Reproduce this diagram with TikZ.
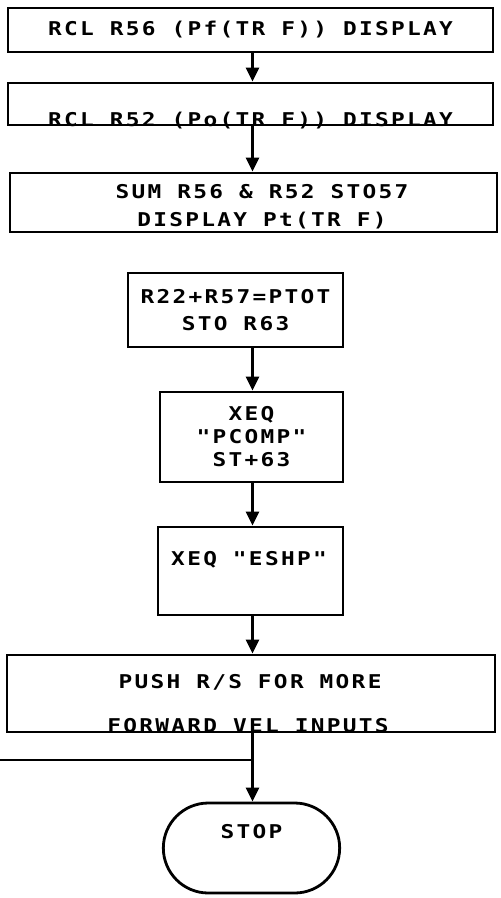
\documentclass[tikz,border=0pt]{standalone}
\usepackage{fontspec}
\newfontfamily\plotfont[FakeStretch=1.2,LetterSpace=12]{DejaVu Sans Mono}
\usetikzlibrary{shapes.misc,arrows.meta,positioning}

\begin{document}
\begin{tikzpicture}[x=1pt,y=-1pt,
        stepbox/.style={draw,line width=2.8pt,inner sep=0pt,align=center,
                        font=\plotfont\bfseries\fontsize{19}{27}\selectfont},
        steptext/.style={inner sep=0pt,align=center,font=\plotfont\bfseries\fontsize{19}{28}\selectfont},
        flow/.style={line width=2.5pt,-{Triangle[length=14pt,width=13pt]}}
    ]
    \useasboundingbox (0,0) rectangle (501,898);
    \coordinate (spine) at (252.5,0);

    % Recall R56
    \node[stepbox,minimum width=485pt,minimum height=44pt] (rclA) at (250.5,30) {RCL R56 (Pf(TR F)) DISPLAY};

    % Recall R52
    \node[stepbox,minimum width=485pt,minimum height=42pt] (rclB) at (250.5,104) {};
    \node[steptext,anchor=base] (rclBtxt) at (rclB.south) {RCL R52 (Po(TR F)) DISPLAY};

    % Sum
    \node[stepbox,minimum width=487pt,minimum height=59pt] (sum) at (253.5,202.5) {};
    \node[steptext] (sumtxt) at (262,207) {SUM R56 \& R52 STO57\\DISPLAY Pt(TR F)};

    % Total power
    \node[stepbox,minimum width=215pt,minimum height=74pt] (ptot) at (235.5,310) {R22+R57=PTOT\\STO R63};

    % PCOMP
    \node[stepbox,minimum width=183pt,minimum height=90pt,
          font=\plotfont\bfseries\fontsize{19}{23}\selectfont] (pcomp) at (251.5,437) {XEQ\\"PCOMP"\\ST+63};

    % ESHP
    \node[stepbox,minimum width=185pt,minimum height=88pt] (eshp) at (250.5,571) {};
    \node[steptext] (eshptxt) at (249,560) {XEQ "ESHP"};

    % Push R/S
    \node[stepbox,minimum width=488pt,minimum height=77pt] (push) at (251,693.5) {};
    \node[steptext] (pushtxtA) at (250,682) {PUSH R/S FOR MORE};
    \node[steptext,anchor=base] (pushtxtB) at (248,732) {FORWARD VEL INPUTS};

    % Stop
    \node[draw,line width=2.8pt,rounded rectangle,minimum width=183pt,minimum height=90pt] (stop) at (251.5,848) {};
    \node[steptext] (stoptxt) at (251.5,832) {STOP};

    \coordinate (loop) at (0,760);

    \draw[flow] (rclA.south -| spine) -- (rclB.north -| spine);
    \draw[flow] (rclB.south -| spine) -- (sum.north -| spine);
    \draw[flow] (ptot.south -| spine) -- (pcomp.north -| spine);
    \draw[flow] (pcomp.south -| spine) -- (eshp.north -| spine);
    \draw[flow] (eshp.south -| spine) -- (push.north -| spine);
    \draw[flow] (push.south -| spine) -- (stop.north -| spine);
    \draw[line width=2.5pt] (loop) -- (loop -| spine);

\end{tikzpicture}
\end{document}
